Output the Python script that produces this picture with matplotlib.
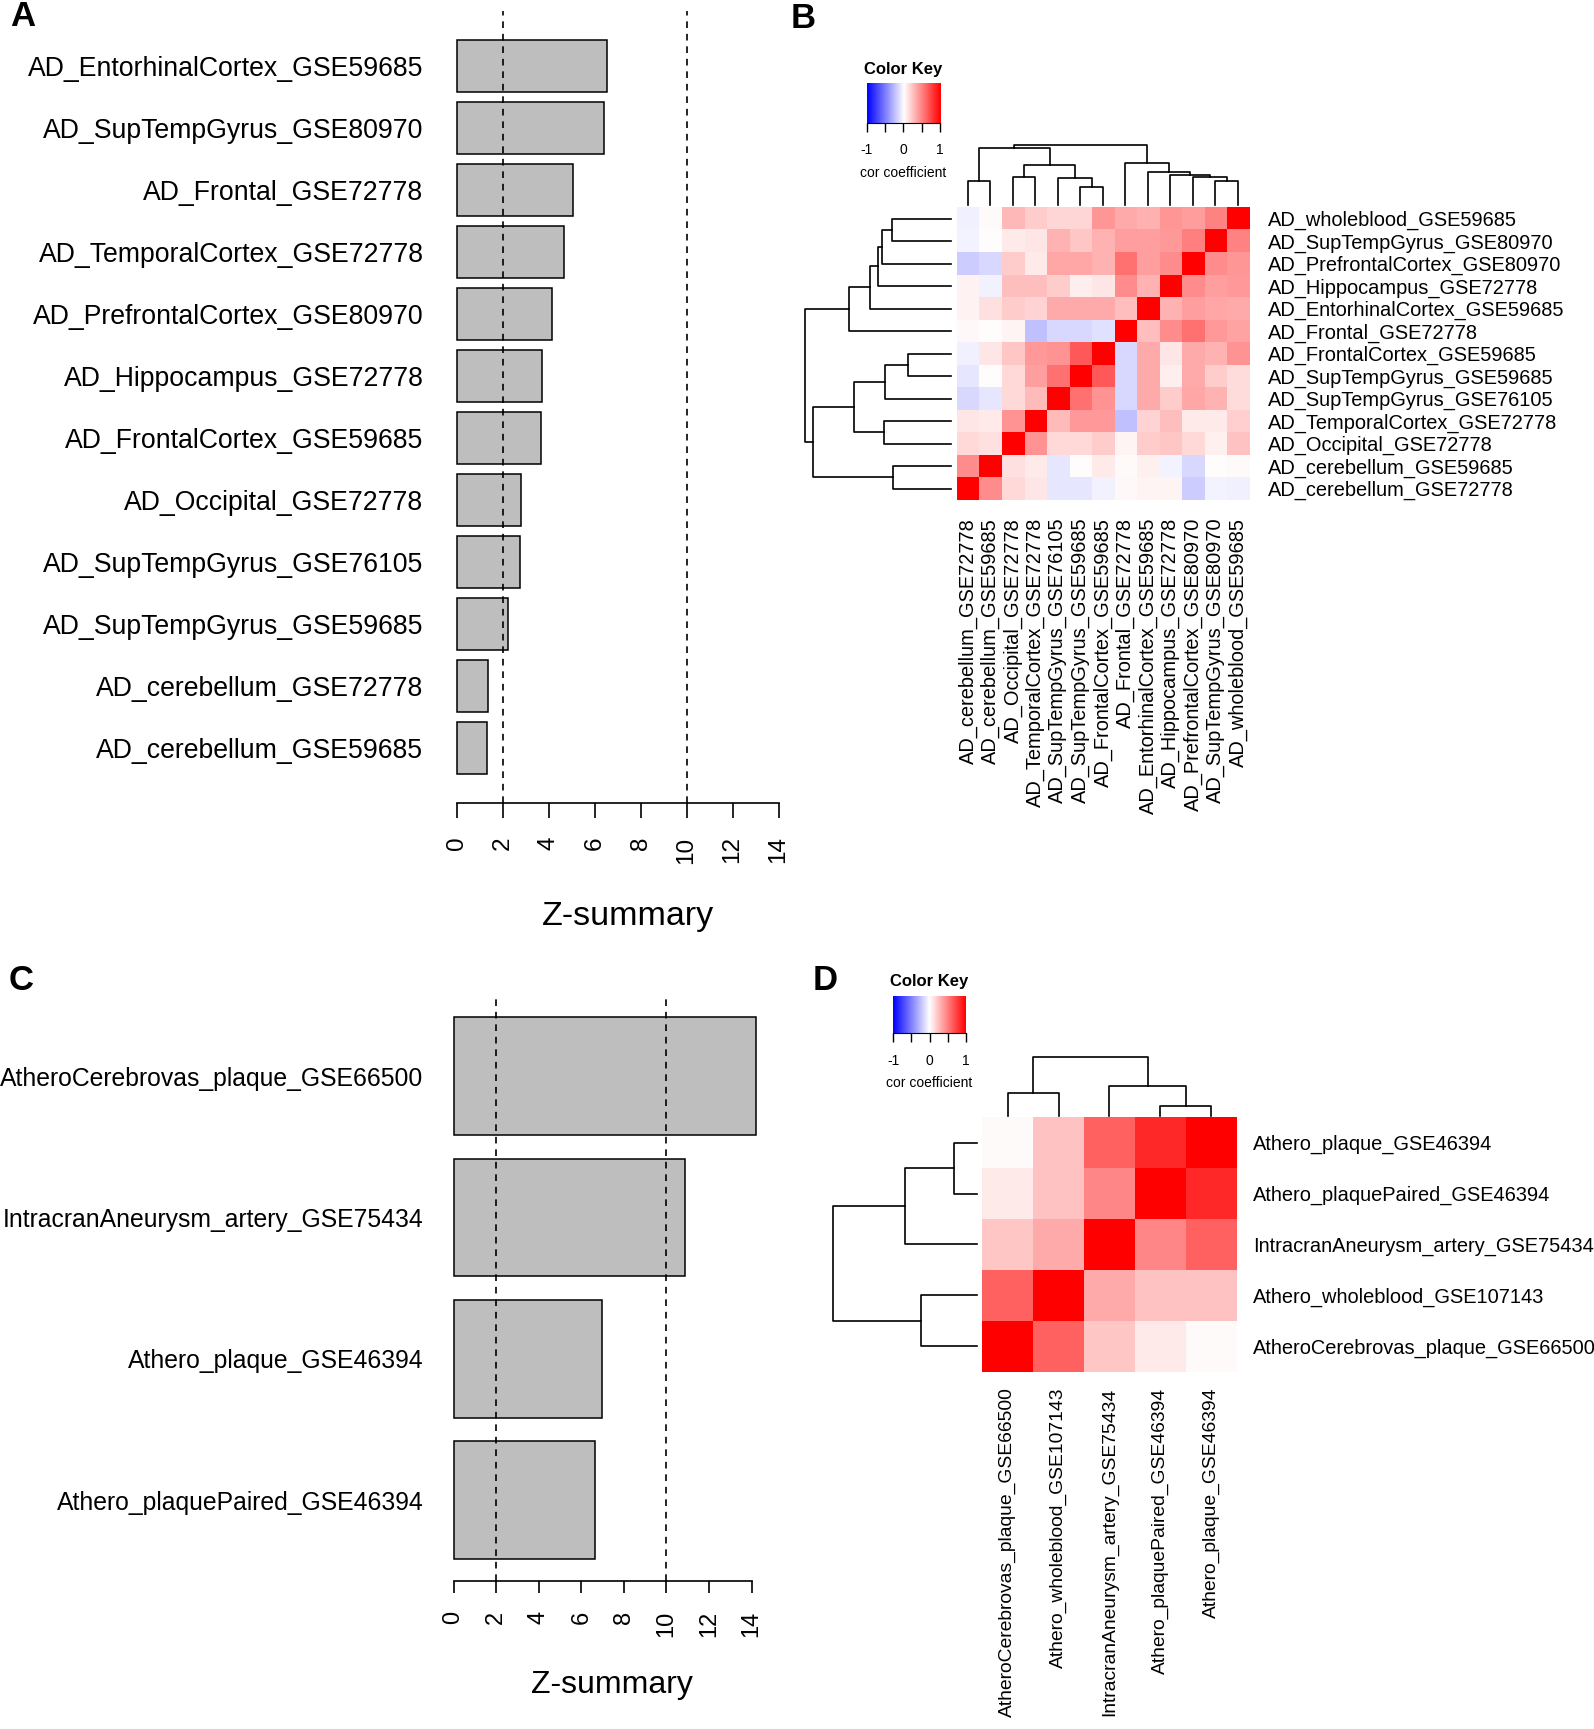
import numpy as np
import matplotlib
matplotlib.use('Agg')
import matplotlib.pyplot as plt
from matplotlib.colors import LinearSegmentedColormap

plt.rcParams['font.family'] = ['Liberation Sans', 'DejaVu Sans']

# ---------------- data ----------------
# panel A: Z-summary, top bar first
a_labels = ['AD_EntorhinalCortex_GSE59685', 'AD_SupTempGyrus_GSE80970', 'AD_Frontal_GSE72778',
            'AD_TemporalCortex_GSE72778', 'AD_PrefrontalCortex_GSE80970', 'AD_Hippocampus_GSE72778',
            'AD_FrontalCortex_GSE59685', 'AD_Occipital_GSE72778', 'AD_SupTempGyrus_GSE76105',
            'AD_SupTempGyrus_GSE59685', 'AD_cerebellum_GSE72778', 'AD_cerebellum_GSE59685']
a_zsum = [6.52, 6.43, 5.08, 4.68, 4.15, 3.71, 3.66, 2.82, 2.75, 2.22, 1.35, 1.31]

# panel C
c_labels = ['AtheroCerebrovas_plaque_GSE66500', 'IntracranAneurysm_artery_GSE75434',
            'Athero_plaque_GSE46394', 'Athero_plaquePaired_GSE46394']
c_zsum = [14.19, 10.88, 6.98, 6.64]

z_cutoffs = [2, 10]
z_ticks = np.arange(0, 15, 2)

# panel B: rows top->bottom, columns are the same sets in reversed order
b_rows = ['AD_wholeblood_GSE59685', 'AD_SupTempGyrus_GSE80970', 'AD_PrefrontalCortex_GSE80970',
          'AD_Hippocampus_GSE72778', 'AD_EntorhinalCortex_GSE59685', 'AD_Frontal_GSE72778',
          'AD_FrontalCortex_GSE59685', 'AD_SupTempGyrus_GSE59685', 'AD_SupTempGyrus_GSE76105',
          'AD_TemporalCortex_GSE72778', 'AD_Occipital_GSE72778', 'AD_cerebellum_GSE59685',
          'AD_cerebellum_GSE72778']
b_cor = [
    [-0.06, 0.02, 0.28, 0.20, 0.16, 0.16, 0.41, 0.33, 0.31, 0.41, 0.39, 0.49, 1.00],
    [-0.04, 0.01, 0.08, 0.10, 0.30, 0.22, 0.30, 0.38, 0.38, 0.40, 0.50, 1.00, 0.49],
    [-0.20, -0.15, 0.20, 0.08, 0.35, 0.35, 0.30, 0.55, 0.38, 0.45, 1.00, 0.45, 0.41],
    [0.05, -0.05, 0.25, 0.25, 0.20, 0.07, 0.10, 0.45, 0.30, 1.00, 0.45, 0.38, 0.40],
    [0.05, 0.12, 0.20, 0.17, 0.33, 0.33, 0.33, 0.25, 1.00, 0.30, 0.38, 0.35, 0.33],
    [0.03, 0.01, 0.04, -0.25, -0.15, -0.15, -0.12, 1.00, 0.25, 0.45, 0.55, 0.40, 0.36],
    [-0.06, 0.10, 0.22, 0.40, 0.42, 0.65, 1.00, -0.15, 0.33, 0.10, 0.33, 0.30, 0.42],
    [-0.10, 0.01, 0.15, 0.38, 0.55, 1.00, 0.65, -0.15, 0.33, 0.07, 0.33, 0.20, 0.14],
    [-0.15, -0.10, 0.15, 0.27, 1.00, 0.55, 0.42, -0.15, 0.33, 0.20, 0.35, 0.30, 0.14],
    [0.10, 0.08, 0.42, 1.00, 0.27, 0.40, 0.40, -0.25, 0.17, 0.25, 0.08, 0.08, 0.19],
    [0.15, 0.12, 1.00, 0.42, 0.15, 0.15, 0.20, 0.04, 0.20, 0.22, 0.15, 0.06, 0.24],
    [0.45, 1.00, 0.12, 0.08, -0.10, 0.01, 0.08, 0.02, 0.06, -0.04, -0.15, 0.01, 0.02],
    [1.00, 0.45, 0.15, 0.10, -0.10, -0.10, -0.05, 0.03, 0.04, 0.04, -0.20, -0.04, -0.06],
]
# hierarchical merges (child a, child b, height); new clusters numbered from len(rows)
b_merges = [(0, 1, 0.404), (2, 13, 0.473), (3, 14, 0.498), (4, 15, 0.555), (5, 16, 0.699),
            (6, 7, 0.297), (8, 18, 0.450), (9, 10, 0.461), (19, 20, 0.667), (11, 12, 0.397),
            (21, 22, 0.947), (17, 23, 1.0)]

# panel D
d_rows = ['Athero_plaque_GSE46394', 'Athero_plaquePaired_GSE46394', 'IntracranAneurysm_artery_GSE75434',
          'Athero_wholeblood_GSE107143', 'AtheroCerebrovas_plaque_GSE66500']
d_cor = [
    [0.02, 0.24, 0.61, 0.84, 1.00],
    [0.08, 0.24, 0.47, 1.00, 0.84],
    [0.22, 0.33, 1.00, 0.47, 0.61],
    [0.61, 1.00, 0.33, 0.24, 0.24],
    [1.00, 0.61, 0.22, 0.08, 0.02],
]
d_merges = [(0, 1, 0.16), (2, 5, 0.50), (3, 4, 0.39), (6, 7, 1.0)]

# ---------------- figure ----------------
W, H = 1594, 1729
fig = plt.figure(figsize=(W / 100, H / 100), dpi=100)
cmap = LinearSegmentedColormap.from_list('bluered', ['blue', 'white', 'red'])


def px_axes(x0, y0, x1, y1):
    return fig.add_axes([x0 / W, 1 - y1 / H, (x1 - x0) / W, (y1 - y0) / H])


def bar_panel(labels, values, zero_px, unit_x, base_px, unit_y, label_right,
              lab_size, tick_size, tick_len, xlab_xy, xlab_size):
    n = len(values)
    pos = np.arange(n) * 1.2
    span = pos[-1] - pos[0] + 1
    pad = 0.04 * span
    top = base_px - (span + 2 * pad) * unit_y
    x_lo, x_hi = -0.6, 15.6
    left = zero_px + x_lo * unit_x
    ax = px_axes(left, top, zero_px + x_hi * unit_x, base_px)
    ax.barh(pos, values, height=1.0, color='#bebebe', edgecolor='black', linewidth=1.1)
    for v in z_cutoffs:
        ax.axvline(v, color='black', lw=1.2, ls=(0, (4, 3.5)), zorder=3)
    ax.set_xlim(x_lo, x_hi)
    ax.set_ylim(pos[-1] + 0.5 + pad, pos[0] - 0.5 - pad)
    for s in ['top', 'right', 'left']:
        ax.spines[s].set_visible(False)
    ax.spines['bottom'].set_bounds(0, 14)
    ax.spines['bottom'].set_linewidth(1.2)
    ax.set_xticks(z_ticks)
    ax.tick_params(axis='x', direction='out', length=tick_len, width=1.2, pad=13,
                   labelsize=tick_size, labelrotation=90)
    ax.set_yticks(pos, labels)
    ax.tick_params(axis='y', length=0, pad=(left - label_right) * 0.72, labelsize=lab_size)
    fig.text(xlab_xy[0] / W, 1 - xlab_xy[1] / H, 'Z-summary', ha='center', va='center',
             fontsize=xlab_size)


def dendro_segments(merges, leaf_pos):
    pos = dict(enumerate(leaf_pos))
    hgt = {i: 0.0 for i in range(len(leaf_pos))}
    segs = []
    for k, (a, b, h) in enumerate(merges):
        node = len(leaf_pos) + k
        segs.append(([pos[a], pos[a], pos[b], pos[b]], [hgt[a], h, h, hgt[b]]))
        pos[node] = (pos[a] + pos[b]) / 2
        hgt[node] = h
    return segs


def heat_panel(mat, rows, merges, hm_box, cd_box, rd_box, key_box, row_pad, col_pad,
               row_size, col_size):
    n = len(rows)
    cols = rows[::-1]
    ax = px_axes(*hm_box)
    ax.imshow(np.array(mat), cmap=cmap, vmin=-1, vmax=1, aspect='auto', interpolation='nearest')
    ax.set_xticks(range(n), cols, rotation=90, fontsize=col_size)
    ax.set_yticks(range(n), rows, fontsize=row_size)
    ax.yaxis.tick_right()
    ax.tick_params(axis='y', length=0, pad=row_pad)
    ax.tick_params(axis='x', length=0, pad=col_pad)
    for s in ax.spines.values():
        s.set_visible(False)

    hmax = max(m[2] for m in merges)
    # column dendrogram (leaves reversed)
    cax = px_axes(*cd_box)
    for xs, ys in dendro_segments(merges, [n - 1 - i for i in range(n)]):
        cax.plot(xs, ys, color='black', lw=1.2, clip_on=False)
    cax.set_xlim(-0.5, n - 0.5)
    cax.set_ylim(0, hmax)
    cax.axis('off')
    # row dendrogram
    rax = px_axes(*rd_box)
    for xs, ys in dendro_segments(merges, list(range(n))):
        rax.plot(ys, xs, color='black', lw=1.2, clip_on=False)
    rax.set_xlim(hmax, 0)
    rax.set_ylim(n - 0.5, -0.5)
    rax.axis('off')
    # colour key
    kax = px_axes(*key_box)
    kax.imshow(np.linspace(-1, 1, 256)[None, :], cmap=cmap, vmin=-1, vmax=1, aspect='auto',
               extent=(-1, 1, 0, 1))
    kax.set_xlim(-1, 1)
    kax.set_yticks([])
    kax.set_xticks([-1, -0.5, 0, 0.5, 1], ['-1', '', '0', '', '1'])
    kax.tick_params(axis='x', length=6.8, width=1, labelsize=10, pad=8)
    for s in ['top', 'left', 'right']:
        kax.spines[s].set_visible(False)
    kax.set_xlabel('cor coefficient', fontsize=10, labelpad=6)
    kax.set_title('Color Key', fontsize=12, fontweight='bold', pad=6.7)


bar_panel(a_labels, a_zsum, 456.6, 23.0, 803.4, 51.68, 423.5, 19.2, 17.5, 10.8, (628, 917), 24.5)
bar_panel(c_labels, c_zsum, 453.6, 21.28, 1580.7, 117.8, 423.5, 17.8, 17, 8.6, (612, 1685), 23)

heat_panel(b_cor, b_rows, b_merges,
           (956.7, 207.3, 1249.2, 499.8), (956.7, 145, 1249.2, 205), (805, 207.3, 951, 499.8),
           (866.7, 83.3, 940, 122.7), 13.5, 13, 14.4, 14.4)
heat_panel(d_cor, d_rows, d_merges,
           (982.3, 1117.3, 1236.6, 1371.6), (982.3, 1056.7, 1236.6, 1115.7),
           (832.7, 1117.3, 976.7, 1371.6), (893.3, 995.7, 965.7, 1033.3), 12, 11.5, 14.4, 13.9)

for letter, x, y in [('A', 22.5, 16), ('B', 803, 18.5), ('C', 21, 980), ('D', 825, 980)]:
    fig.text(x / W, 1 - y / H, letter, fontsize=25, fontweight='bold', ha='center', va='center')

fig.savefig('out.png', dpi=100)
